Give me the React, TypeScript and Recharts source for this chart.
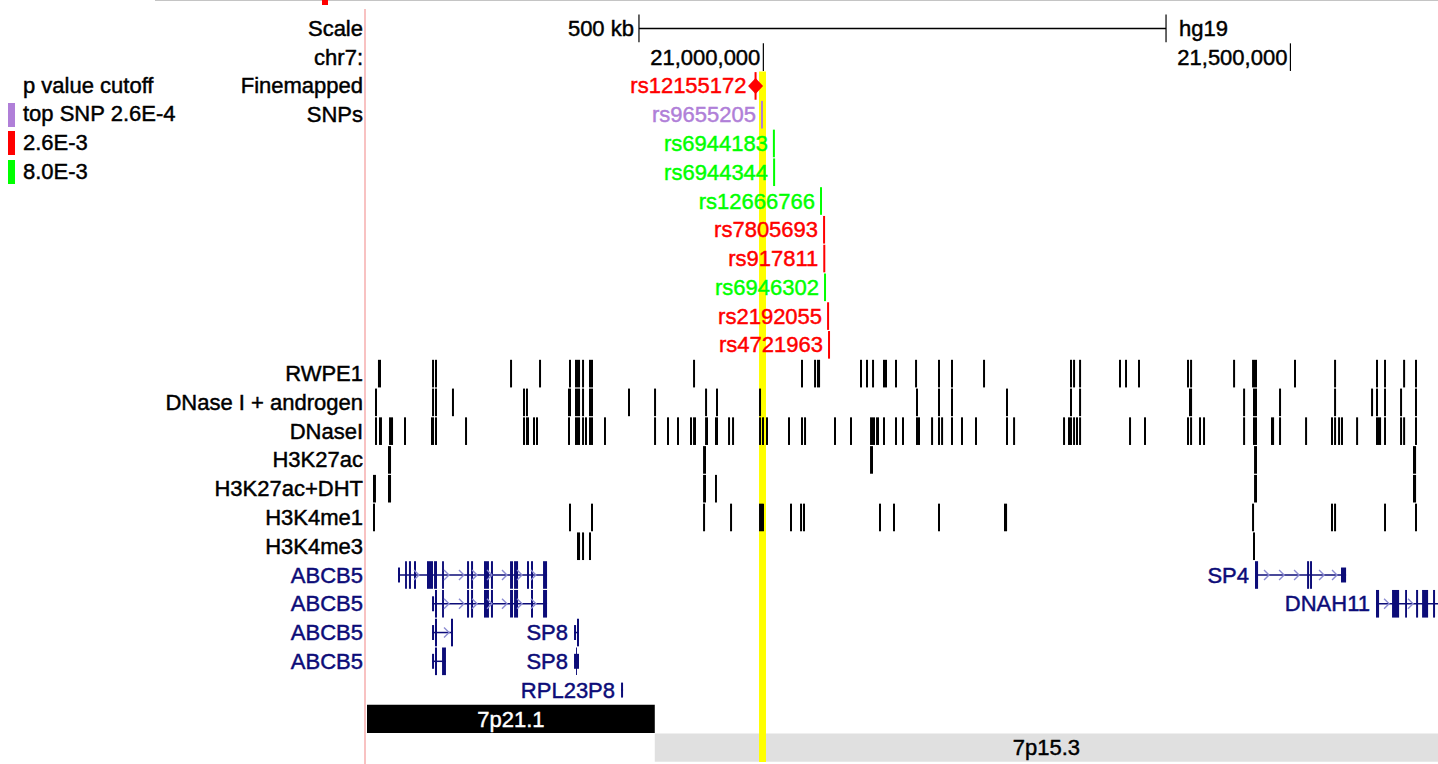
import React from "react";
import {
  ComposedChart,
  XAxis,
  YAxis,
  Scatter,
  ReferenceArea,
  ReferenceLine,
} from "recharts";

const WIDTH = 1438;
const HEIGHT = 764;
const MARGIN = { top: 14, right: 0, bottom: 2, left: 0 };
const LABEL_WIDTH = 367;
const ROW_COUNT = 26;
const ROW_H = (HEIGHT - MARGIN.top - MARGIN.bottom) / ROW_COUNT;
const FONT = '"Liberation Sans", Arial, Helvetica, sans-serif';
const FONT_SIZE = 22;
const TEXT_STROKE = 0.45;

const GENE_BLUE = "#0c0c78";
const ARROW_BLUE = "#8c8cd2";

// row layout
const ROW_SCALE = 0;
const ROW_CHROM = 1;
const ROW_SNP0 = 2;
const ROW_TRACK0 = 12;

// visible window on chr7 (hg19), in kb
const viewRange = [20624, 21640];
const scaleBarKb = [20882, 21382];
const chromTicksKb = [21000, 21500];
const highlightKb = [20995.9, 21002.5];

const headerLabels = ["Scale", "chr7:", "Finemapped", "SNPs"];

// p value cutoff legend
const pCutoffLabels = ["top SNP 2.6E-4", "2.6E-3", "8.0E-3"];
const pCutoffColors = ["#b07fd8", "#ff0000", "#00ff00"];

// finemapped SNPs
const snpNames = [
  "rs12155172",
  "rs9655205",
  "rs6944183",
  "rs6944344",
  "rs12666766",
  "rs7805693",
  "rs917811",
  "rs6946302",
  "rs2192055",
  "rs4721963",
];
const snpPosKb = [
  20992.6, 20998.7, 21010.0, 21010.2, 21054.7, 21057.6, 21057.8, 21058.5,
  21061.4, 21062.3,
];
const snpCutoff = [1, 0, 2, 2, 2, 1, 1, 2, 1, 1];
const leadSnp = "rs12155172";

// peak tracks, [start, end] kb
const rwpe1Peaks = [
  [20634.4, 20637.3], [20685.7, 20687.6], [20688.5, 20690.4], [20759.7, 20761.6],
  [20787.2, 20789.1], [20815.6, 20817.5], [20821.3, 20826.1], [20828.0, 20829.9],
  [20834.6, 20838.4], [20933.3, 20935.2], [21035.7, 21037.6], [21048.1, 21050.0],
  [21050.9, 21053.8], [21091.7, 21093.6], [21097.4, 21099.3], [21103.1, 21105.0],
  [21113.5, 21117.3], [21124.9, 21126.8], [21143.9, 21145.8], [21165.7, 21167.6],
  [21178.0, 21179.9], [21208.4, 21210.3], [21290.9, 21292.8], [21293.8, 21295.7],
  [21299.5, 21301.4], [21337.4, 21339.3], [21343.1, 21345.0], [21355.4, 21357.3],
  [21401.9, 21403.8], [21404.8, 21406.7], [21445.6, 21447.5], [21463.6, 21468.3],
  [21503.4, 21505.3], [21541.4, 21543.3], [21581.2, 21583.1], [21588.8, 21590.7],
  [21606.9, 21608.8], [21618.2, 21620.1],
];

const dnaseAndrogenPeaks = [
  [20631.6, 20633.5], [20685.7, 20687.6], [20688.5, 20690.4], [20704.6, 20706.5],
  [20772.0, 20773.9], [20774.8, 20776.7], [20814.7, 20817.5], [20821.3, 20826.1],
  [20828.0, 20829.9], [20834.6, 20838.4], [20871.6, 20873.5], [20896.3, 20898.2],
  [20944.7, 20946.6], [20955.1, 20957.0], [20995.9, 20997.8], [21144.8, 21146.7],
  [21165.7, 21167.6], [21178.0, 21179.9], [21230.2, 21232.1], [21290.9, 21292.8],
  [21299.5, 21301.4], [21403.8, 21406.7], [21455.1, 21457.0], [21464.5, 21468.3],
  [21489.2, 21491.1], [21541.4, 21543.3], [21576.5, 21578.4], [21581.2, 21583.1],
  [21588.8, 21590.7], [21604.0, 21605.9], [21618.2, 21620.1],
];

const dnasePeaks = [
  [20631.6, 20633.5], [20635.4, 20638.2], [20644.9, 20648.7], [20659.1, 20661.0],
  [20684.7, 20687.6], [20688.5, 20690.4], [20717.0, 20718.9], [20772.0, 20773.9],
  [20774.8, 20777.7], [20781.5, 20783.4], [20784.3, 20786.2], [20814.7, 20816.6],
  [20821.3, 20826.1], [20828.0, 20829.9], [20830.8, 20832.7], [20834.6, 20838.4],
  [20848.8, 20850.7], [20896.3, 20898.2], [20908.6, 20910.5], [20918.1, 20920.0],
  [20930.4, 20932.3], [20933.3, 20936.1], [20944.7, 20947.5], [20954.1, 20957.0],
  [20966.5, 20968.4], [20970.3, 20972.2], [20995.9, 20997.8], [20998.7, 21000.6],
  [21002.5, 21004.4], [21023.4, 21025.3], [21035.7, 21037.6], [21038.6, 21040.5],
  [21067.0, 21068.9], [21082.2, 21084.1], [21101.2, 21105.9], [21106.9, 21109.7],
  [21113.5, 21115.4], [21124.9, 21126.8], [21131.5, 21133.4], [21144.8, 21148.6],
  [21159.1, 21161.0], [21165.7, 21167.6], [21168.6, 21170.5], [21178.0, 21179.9],
  [21187.5, 21189.4], [21200.8, 21202.7], [21230.2, 21232.1], [21236.9, 21238.8],
  [21284.3, 21286.2], [21289.0, 21292.8], [21293.8, 21295.7], [21296.6, 21298.5],
  [21299.5, 21301.4], [21346.9, 21348.8], [21361.1, 21363.0], [21401.9, 21403.8],
  [21404.8, 21406.7], [21413.3, 21415.2], [21417.1, 21419.0], [21455.1, 21457.0],
  [21464.5, 21468.3], [21481.6, 21484.5], [21489.2, 21491.1], [21513.9, 21515.8],
  [21538.5, 21540.4], [21541.4, 21543.3], [21545.2, 21547.1], [21548.0, 21549.9],
  [21562.3, 21564.2], [21581.2, 21586.0], [21588.8, 21590.7], [21604.0, 21605.9],
  [21606.9, 21608.8], [21618.2, 21620.1],
];

const h3k27acPeaks = [
  [20643.9, 20646.8], [20942.8, 20945.6], [21101.2, 21104.0], [21465.5, 21468.3],
  [21616.3, 21619.2],
];

const h3k27acDhtPeaks = [
  [20629.7, 20632.5], [20643.9, 20646.8], [20942.8, 20945.6], [20954.1, 20956.0],
  [21465.5, 21468.3], [21616.3, 21619.2],
];

const h3k4me1Peaks = [
  [20629.7, 20631.6], [20815.6, 20817.5], [20836.5, 20838.4], [20942.8, 20944.7],
  [20968.4, 20970.3], [20995.9, 21000.6], [21025.3, 21027.2], [21034.8, 21036.7],
  [21037.6, 21039.5], [21109.7, 21111.6], [21123.0, 21124.9], [21165.7, 21167.6],
  [21228.3, 21231.2], [21463.6, 21465.5], [21538.5, 21540.4], [21541.4, 21543.3],
  [21588.8, 21590.7], [21618.2, 21620.1],
];

const h3k4me3Peaks = [
  [20823.2, 20826.1], [20828.0, 20829.9], [20834.6, 20836.5], [21464.5, 21466.4],
];

const tracks = [
  { name: "RWPE1", peaks: rwpe1Peaks },
  { name: "DNase I + androgen", peaks: dnaseAndrogenPeaks },
  { name: "DNaseI", peaks: dnasePeaks },
  { name: "H3K27ac", peaks: h3k27acPeaks },
  { name: "H3K27ac+DHT", peaks: h3k27acDhtPeaks },
  { name: "H3K4me1", peaks: h3k4me1Peaks },
  { name: "H3K4me3", peaks: h3k4me3Peaks },
];

// gene models, kb
const abcb5Arrows = [20699.9, 20714.1, 20726.5, 20740.7, 20754.9, 20769.2, 20782.4];

const genes = [
  {
    name: "ABCB5", row: 19, start: 20653.4, end: 20794.8, inMargin: true,
    utrs: [[20653.4, 20655.3]],
    exons: [
      [20660.1, 20661.9], [20663.8, 20665.7], [20668.6, 20670.5], [20680.9, 20686.6],
      [20687.6, 20690.4], [20695.2, 20697.0], [20718.9, 20720.8], [20722.7, 20724.6],
      [20735.0, 20739.7], [20741.6, 20743.5], [20759.7, 20762.5], [20763.5, 20767.3],
      [20775.8, 20777.7], [20779.6, 20781.5], [20791.0, 20794.8],
    ],
    arrows: [20671.4, ...abcb5Arrows],
  },
  {
    name: "ABCB5", row: 20, start: 20685.7, end: 20794.8, inMargin: true,
    utrs: [[20685.7, 20687.6]],
    exons: [
      [20688.5, 20690.4], [20695.2, 20697.0], [20718.9, 20720.8], [20722.7, 20724.6],
      [20735.0, 20739.7], [20741.6, 20743.5], [20759.7, 20762.5], [20763.5, 20767.3],
      [20779.6, 20781.5], [20791.0, 20794.8],
    ],
    arrows: abcb5Arrows,
  },
  {
    name: "ABCB5", row: 21, start: 20685.7, end: 20705.6, inMargin: true,
    utrs: [[20685.7, 20687.6]],
    exons: [[20688.5, 20690.4], [20703.7, 20705.6]],
    arrows: [20699.9],
  },
  {
    name: "ABCB5", row: 22, start: 20685.7, end: 20698.9, inMargin: true,
    utrs: [[20685.7, 20687.6]],
    exons: [[20688.5, 20690.4], [20695.2, 20698.9]],
    arrows: [],
  },
  {
    name: "SP8", row: 21, start: 20820.4, end: 20825.1, inMargin: false,
    utrs: [[20820.4, 20822.3]],
    exons: [[20823.2, 20825.1]],
    arrows: [],
  },
  {
    name: "SP8", row: 22, start: 20820.4, end: 20825.1, inMargin: false,
    utrs: [[20820.4, 20825.1]],
    exons: [[20822.3, 20823.2]],
    arrows: [],
  },
  {
    name: "RPL23P8", row: 23, start: 20865.0, end: 20866.9, inMargin: false,
    utrs: [[20865.0, 20866.9]],
    exons: [],
    arrows: [],
  },
  {
    name: "SP4", row: 19, start: 21466.4, end: 21552.8, inMargin: false,
    utrs: [[21548.0, 21552.8]],
    exons: [[21466.4, 21469.3], [21515.8, 21517.7], [21518.6, 21520.5]],
    arrows: [21477.8, 21492.1, 21506.3, 21530.0, 21542.3],
  },
  {
    name: "DNAH11", row: 20, start: 21581.2, end: 21660.0, inMargin: false,
    utrs: [],
    exons: [
      [21581.2, 21584.1], [21596.4, 21603.1], [21608.8, 21610.6], [21619.2, 21621.1],
      [21624.9, 21630.6], [21635.3, 21637.2],
    ],
    arrows: [21591.7, 21614.4],
  },
];

// cytobands
const bandNames = ["7p21.1", "7p15.3"];
const bandStartKb = [16500, 20897];
const bandEndKb = [20897, 25500];
const bandFill = ["#000000", "#e0e0e0"];
const bandText = ["#ffffff", "#000000"];
const bandRows = [24, 25];

const clampKb = (v: number) => Math.max(viewRange[0], Math.min(viewRange[1], v));

const labelByRow = new Map<number, { text: string; color: string }>();
headerLabels.forEach((t, i) => labelByRow.set(i, { text: t, color: "#000" }));
tracks.forEach((t, i) => labelByRow.set(ROW_TRACK0 + i, { text: t.name, color: "#000" }));
genes
  .filter((g) => g.inMargin)
  .forEach((g) => labelByRow.set(g.row, { text: g.name, color: GENE_BLUE }));
const labelRows = Array.from(labelByRow.keys()).sort((a, b) => a - b);

function Label(props: any) {
  const { x, y, anchor, color, children } = props;
  return (
    <text
      x={x}
      y={y}
      textAnchor={anchor}
      dominantBaseline="central"
      fontSize={FONT_SIZE}
      fontFamily={FONT}
      fill={color}
      stroke={color}
      strokeWidth={TEXT_STROKE}
    >
      {children}
    </text>
  );
}

function TrackLabel(props: any) {
  const { x, y, payload } = props;
  const lab = labelByRow.get(payload.value);
  if (!lab) return null;
  return (
    <Label x={x} y={y} anchor="end" color={lab.color}>
      {lab.text}
    </Label>
  );
}

function ScaleEnd(props: any) {
  const { cx, cy, payload } = props;
  const h = ROW_H * 0.48;
  const left = payload.side === "left";
  return (
    <g>
      <line x1={cx} x2={cx} y1={cy - h} y2={cy + h} stroke="#000" strokeWidth={1.2} />
      <Label x={left ? cx - 5 : cx + 13} y={cy} anchor={left ? "end" : "start"} color="#000">
        {payload.text}
      </Label>
    </g>
  );
}

function ChromTick(props: any) {
  const { cx, cy, payload } = props;
  const h = ROW_H * 0.48;
  return (
    <g>
      <line x1={cx} x2={cx} y1={cy - h} y2={cy + h} stroke="#000" strokeWidth={1.2} />
      <Label x={cx - 3} y={cy} anchor="end" color="#000">
        {payload.text}
      </Label>
    </g>
  );
}

function SnpMark(props: any) {
  const { cx, cy, payload } = props;
  const color = pCutoffColors[payload.cutoff];
  const h = ROW_H * 0.48;
  return (
    <g>
      <rect x={cx - 1} y={cy - h} width={2} height={h * 2} fill={color} />
      {payload.lead && (
        <polygon
          points={`${cx},${cy - 8} ${cx + 7.5},${cy} ${cx},${cy + 8} ${cx - 7.5},${cy}`}
          fill={color}
        />
      )}
      <Label x={cx - (payload.lead ? 9 : 6)} y={cy} anchor="end" color={color}>
        {payload.name}
      </Label>
    </g>
  );
}

function Chevron(props: any) {
  const { cx, cy } = props;
  return (
    <polyline
      points={`${cx - 3},${cy - 5} ${cx + 2},${cy} ${cx - 3},${cy + 5}`}
      fill="none"
      stroke={ARROW_BLUE}
      strokeWidth={1.4}
    />
  );
}

function GeneLabel(props: any) {
  const { cx, cy, payload } = props;
  return (
    <Label x={cx - 6} y={cy} anchor="end" color={GENE_BLUE}>
      {payload.name}
    </Label>
  );
}

export default function App() {
  const scaleEnds = [
    { pos: scaleBarKb[0], row: ROW_SCALE, side: "left", text: `${scaleBarKb[1] - scaleBarKb[0]} kb` },
    { pos: scaleBarKb[1], row: ROW_SCALE, side: "right", text: "hg19" },
  ];
  const chromTickData = chromTicksKb.map((kb) => ({
    pos: kb,
    row: ROW_CHROM,
    text: (kb * 1000).toLocaleString("en-US"),
  }));
  const snpData = snpNames.map((name, i) => ({
    pos: snpPosKb[i],
    row: ROW_SNP0 + i,
    name,
    cutoff: snpCutoff[i],
    lead: name === leadSnp,
  }));
  const arrowData = genes.flatMap((g) => g.arrows.map((a) => ({ pos: a, row: g.row })));
  const geneLabelData = genes
    .filter((g) => !g.inMargin)
    .map((g) => ({ pos: g.start, row: g.row, name: g.name }));

  const bandAreas = bandNames.map((name, i) => (
    <ReferenceArea
      key={`band-${name}`}
      x1={clampKb(bandStartKb[i])}
      x2={clampKb(bandEndKb[i])}
      y1={bandRows[i] - 0.49}
      y2={bandRows[i] + 0.49}
      fill={bandFill[i]}
      fillOpacity={1}
      stroke="none"
      ifOverflow="visible"
      label={{
        value: name,
        position: "center",
        fill: bandText[i],
        stroke: bandText[i],
        strokeWidth: TEXT_STROKE,
        fontSize: FONT_SIZE,
        fontFamily: FONT,
      }}
    />
  ));

  const trackAreas = tracks.flatMap((t, ti) =>
    t.peaks.map(([s, e], pi) => (
      <ReferenceArea
        key={`trk-${ti}-${pi}`}
        x1={s}
        x2={e}
        y1={ROW_TRACK0 + ti - 0.48}
        y2={ROW_TRACK0 + ti + 0.48}
        fill="#000"
        fillOpacity={1}
        stroke="none"
        ifOverflow="visible"
      />
    ))
  );

  const geneLines = genes.map((g, gi) => (
    <ReferenceLine
      key={`gl-${gi}`}
      segment={[
        { x: clampKb(g.start), y: g.row },
        { x: clampKb(g.end), y: g.row },
      ]}
      stroke={GENE_BLUE}
      strokeWidth={1.5}
      ifOverflow="visible"
    />
  ));

  const geneBlocks = genes.flatMap((g, gi) => [
    ...g.utrs.map(([s, e], k) => (
      <ReferenceArea
        key={`utr-${gi}-${k}`}
        x1={s}
        x2={clampKb(e)}
        y1={g.row - 0.26}
        y2={g.row + 0.26}
        fill={GENE_BLUE}
        fillOpacity={1}
        stroke="none"
        ifOverflow="visible"
      />
    )),
    ...g.exons.map(([s, e], k) => (
      <ReferenceArea
        key={`ex-${gi}-${k}`}
        x1={s}
        x2={clampKb(e)}
        y1={g.row - 0.48}
        y2={g.row + 0.48}
        fill={GENE_BLUE}
        fillOpacity={1}
        stroke="none"
        ifOverflow="visible"
      />
    )),
  ]);

  const legendTop = (row: number) => MARGIN.top + row * ROW_H;
  const legendText = {
    position: "absolute" as const,
    left: 23,
    height: ROW_H,
    lineHeight: `${ROW_H}px`,
    fontSize: FONT_SIZE,
    whiteSpace: "nowrap" as const,
    WebkitTextStroke: `${TEXT_STROKE}px #000`,
  };

  return (
    <div
      style={{
        position: "absolute",
        left: 0,
        top: 0,
        width: WIDTH,
        height: HEIGHT,
        background: "#fff",
        fontFamily: FONT,
        overflow: "hidden",
      }}
    >
      <ComposedChart width={WIDTH} height={HEIGHT} margin={MARGIN}>
        <XAxis
          type="number"
          dataKey="pos"
          domain={viewRange}
          allowDataOverflow
          hide
        />
        <YAxis
          type="number"
          dataKey="row"
          domain={[-0.5, ROW_COUNT - 0.5]}
          reversed
          allowDataOverflow
          width={LABEL_WIDTH}
          ticks={labelRows}
          interval={0}
          tick={<TrackLabel />}
          tickLine={false}
          axisLine={false}
          tickSize={0}
          tickMargin={4}
        />

        {bandAreas}

        <ReferenceArea
          x1={highlightKb[0]}
          x2={highlightKb[1]}
          y1={ROW_SNP0 - 0.5}
          y2={ROW_COUNT - 0.5}
          fill="#ffff00"
          fillOpacity={1}
          stroke="none"
          ifOverflow="visible"
        />

        {trackAreas}
        {geneLines}
        {geneBlocks}

        <ReferenceLine
          segment={[
            { x: scaleBarKb[0], y: ROW_SCALE },
            { x: scaleBarKb[1], y: ROW_SCALE },
          ]}
          stroke="#000"
          strokeWidth={1.5}
          ifOverflow="visible"
        />

        <Scatter data={scaleEnds} shape={ScaleEnd} isAnimationActive={false} />
        <Scatter data={chromTickData} shape={ChromTick} isAnimationActive={false} />
        <Scatter data={arrowData} shape={Chevron} isAnimationActive={false} />
        <Scatter data={snpData} shape={SnpMark} isAnimationActive={false} />
        <Scatter data={geneLabelData} shape={GeneLabel} isAnimationActive={false} />
      </ComposedChart>

      {/* frame lines */}
      <div style={{ position: "absolute", left: 155, top: 0, width: WIDTH - 155, height: 1, background: "#c4c4c4" }} />
      <div style={{ position: "absolute", left: 322, top: 0, width: 6, height: 5, background: "#ff0000" }} />
      <div style={{ position: "absolute", left: 364, top: 9, width: 2, height: HEIGHT - 9, background: "#f8c2c2" }} />

      {/* p value legend */}
      <div style={{ ...legendText, top: legendTop(ROW_SNP0) }}>p value cutoff</div>
      {pCutoffLabels.map((lab, i) => (
        <div key={lab}>
          <div
            style={{
              position: "absolute",
              left: 8,
              top: legendTop(ROW_SNP0 + 1 + i) + (ROW_H - 24) / 2,
              width: 7,
              height: 24,
              background: pCutoffColors[i],
            }}
          />
          <div style={{ ...legendText, top: legendTop(ROW_SNP0 + 1 + i) }}>{lab}</div>
        </div>
      ))}
    </div>
  );
}
